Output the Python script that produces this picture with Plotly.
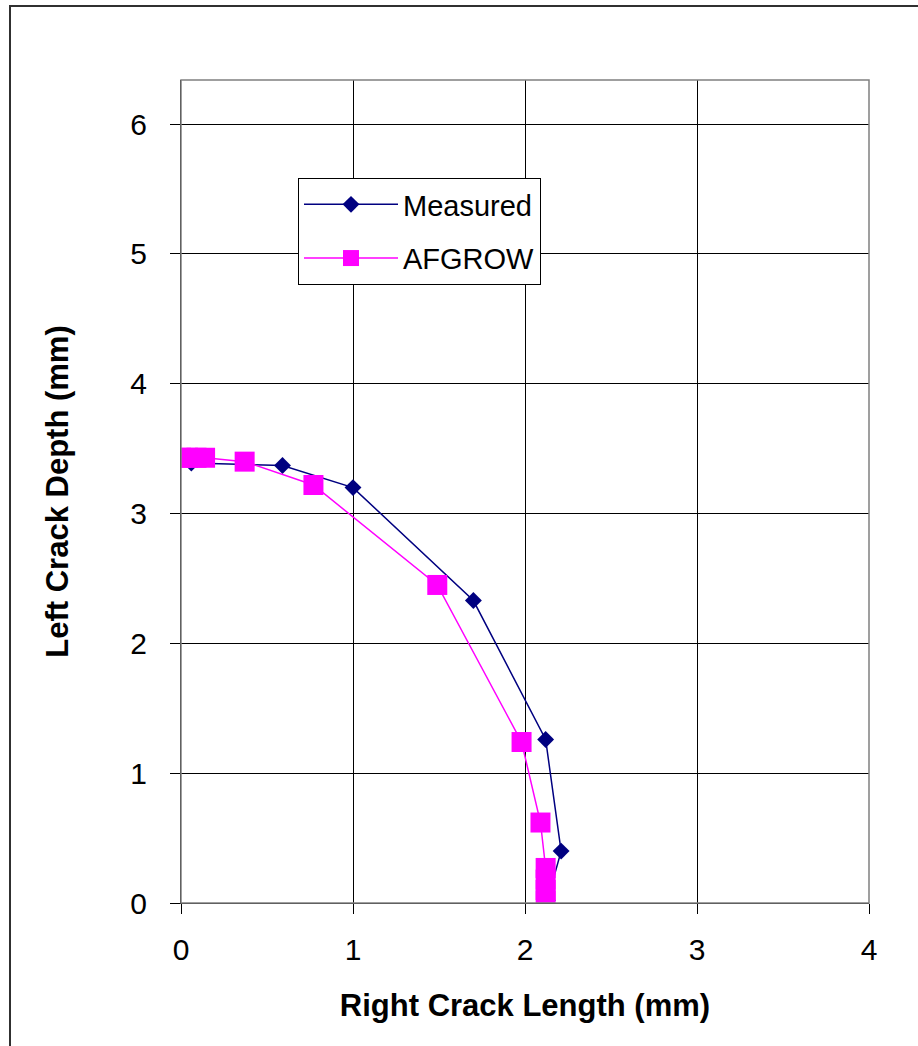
import plotly.graph_objects as go

# Data
measured_x = [0.06, 0.59, 1.00, 1.70, 2.12, 2.21, 2.13]
measured_y = [3.39, 3.37, 3.20, 2.33, 1.26, 0.40, 0.02]

afgrow_x = [0.00, 0.04, 0.09, 0.14, 0.37, 0.77, 1.49, 1.98, 2.09, 2.12, 2.12, 2.12, 2.12]
afgrow_y = [3.43, 3.43, 3.43, 3.43, 3.40, 3.22, 2.45, 1.24, 0.62, 0.27, 0.18, 0.10, 0.02]

x_ticks = [0, 1, 2, 3, 4]
y_ticks = [0, 1, 2, 3, 4, 5, 6]

FONT = "Liberation Sans, Arial, sans-serif"

fig = go.Figure()
fig.add_trace(go.Scatter(
    x=measured_x, y=measured_y, name="Measured", mode="lines+markers",
    line=dict(color="#000080", width=1.5),
    marker=dict(symbol="diamond", size=13, color="#000080"),
    legendgroup="m",
))
fig.add_trace(go.Scatter(
    x=afgrow_x, y=afgrow_y, name="AFGROW", mode="lines+markers",
    line=dict(color="#FF00FF", width=1.5),
    marker=dict(symbol="square", size=20, color="#FF00FF"),
    legendgroup="a",
))

L, R, T, B = 181, 49, 80, 143
W, H = 918, 1046
pw, ph = W - L - R, H - T - B

fig.update_layout(
    width=W, height=H,
    margin=dict(l=L, r=R, t=T, b=B, pad=0),
    paper_bgcolor="white", plot_bgcolor="white",
    font=dict(family=FONT, size=30, color="black"),
    showlegend=True,
    legend=dict(
        x=(298 - L) / pw, y=(H - B - 178) / ph, xanchor="left", yanchor="top",
        bgcolor="white", bordercolor="black", borderwidth=1,
        font=dict(family=FONT, size=29, color="black"),
        tracegroupgap=13, itemwidth=94,
    ),
    xaxis=dict(
        range=[0, 4], tickvals=x_ticks, ticktext=[str(v) for v in x_ticks],
        showgrid=True, gridcolor="black", gridwidth=1,
        showline=True, linecolor="black", linewidth=1,
        ticks="outside", ticklen=10, tickcolor="black",
        ticklabelstandoff=10, zeroline=False,
        tickfont=dict(family=FONT, size=30, color="black"),
        title=dict(text="<b>Right Crack Length (mm)</b>", standoff=29,
                   font=dict(family=FONT, size=31, color="black")),
    ),
    yaxis=dict(
        range=[0, 6.34], tickvals=y_ticks, ticktext=[str(v) for v in y_ticks],
        showgrid=True, gridcolor="black", gridwidth=1,
        showline=True, linecolor="black", linewidth=1,
        ticks="outside", ticklen=10, tickcolor="black",
        ticklabelstandoff=17, zeroline=False,
        tickfont=dict(family=FONT, size=30, color="black"),
        title=dict(text="<b>Left Crack Depth (mm)</b>", standoff=52,
                   font=dict(family=FONT, size=31, color="black")),
    ),
    shapes=[
        # plot-area border
        dict(type="rect", xref="paper", yref="paper", x0=0, y0=0, x1=1, y1=1,
             line=dict(color="#808080", width=1.5), layer="above"),
        # outer chart frame (cut off at right and bottom)
        dict(type="rect", xref="paper", yref="paper",
             x0=(10 - L) / pw, x1=(W + 20 - L) / pw,
             y0=-(H + 20 - (H - B)) / ph, y1=(H - B - 6) / ph,
             line=dict(color="#303030", width=2), layer="below"),
    ],
)

fig.write_html("out.html")
